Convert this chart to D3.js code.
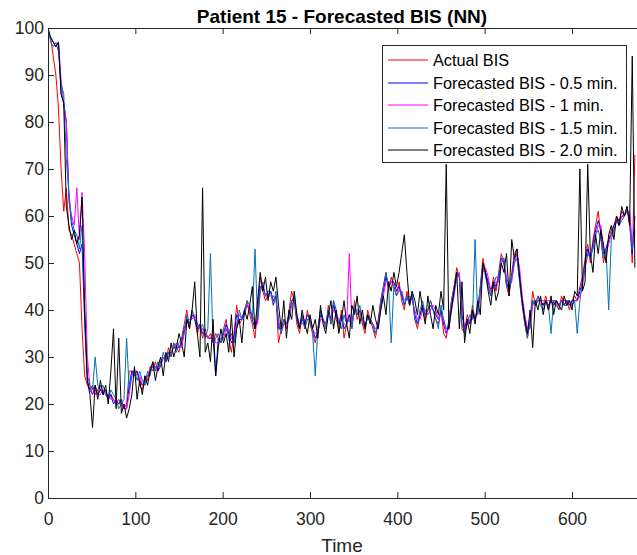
<!DOCTYPE html>
<html>
<head>
<meta charset="utf-8">
<script src="https://cdn.jsdelivr.net/npm/d3@7"></script>
<style>
  body { margin: 0; background: #fff; }
  svg { display: block; font-family: "Liberation Sans", Arial, Helvetica, sans-serif; }
</style>
</head>
<body>
<script>
// Chart data, one sample every 3 time units (t = 0, 3, 6, ... 672)
const STEP = 3;

const actualBIS = [
  99, 98, 94, 90, 83, 70, 61, 66, 57, 56,
  54, 52, 50, 36, 26, 24, 23, 24, 22, 23,
  24, 22, 23, 21, 22, 21, 20, 21, 20, 19,
  20, 27, 27, 27, 27, 24, 23, 26, 25, 28,
  27, 29, 27, 28, 30, 29, 32, 30, 33, 32,
  31, 34, 37, 40, 36, 40, 38, 35, 37, 34,
  36, 34, 35, 33, 35, 34, 33, 36, 38, 34,
  31, 35, 41, 37, 38, 40, 42, 39, 37, 34,
  40, 47, 44, 42, 43, 44, 41, 43, 33, 36,
  38, 36, 40, 44, 42, 37, 35, 39, 36, 40,
  37, 35, 33, 36, 40, 38, 36, 41, 37, 42,
  38, 36, 40, 34, 37, 39, 36, 42, 38, 40,
  37, 35, 40, 38, 36, 34, 38, 42, 45, 48,
  44, 47, 45, 43, 46, 42, 40, 44, 41, 43,
  38, 36, 39, 41, 38, 40, 42, 40, 38, 37,
  40, 35, 34, 38, 42, 45, 49, 47, 36, 35,
  39, 37, 41, 38, 40, 45, 51, 48, 45, 43,
  47, 44, 48, 52, 50, 45, 43, 48, 52, 53,
  46, 41, 37, 34, 38, 44, 41, 43, 42, 41,
  43, 40, 42, 41, 42, 40, 43, 41, 42, 40,
  42, 43, 42, 45, 47, 51, 54, 50, 55, 58,
  61, 56, 50, 53, 55, 57, 58, 60, 59, 61,
  60, 62, 59, 50, 73
];

const forecast05 = [
  99, 98, 97, 96, 97, 86, 84, 80, 64, 58,
  56, 54, 52, 54, 37, 25, 23, 22, 24, 22,
  23, 22, 23, 21, 22, 20, 21, 20, 21, 19,
  19, 24, 27, 26, 27, 25, 24, 25, 26, 27,
  28, 28, 27, 29, 30, 29, 31, 31, 32, 32,
  32, 33, 36, 38, 37, 39, 38, 36, 37, 35,
  35, 34, 34, 34, 26, 34, 33, 35, 37, 35,
  33, 34, 39, 38, 38, 40, 41, 40, 38, 36,
  38, 45, 45, 43, 43, 44, 42, 43, 36, 36,
  37, 37, 39, 42, 42, 38, 36, 38, 37, 39,
  38, 36, 34, 35, 39, 38, 37, 40, 38, 41,
  39, 37, 39, 36, 37, 39, 37, 41, 39, 40,
  38, 36, 39, 38, 37, 35, 37, 41, 44, 47,
  45, 46, 46, 44, 45, 43, 41, 43, 42, 43,
  39, 37, 39, 41, 39, 40, 41, 40, 39, 38,
  40, 37, 35, 37, 41, 44, 48, 47, 39, 36,
  38, 37, 40, 38, 40, 44, 49, 48, 46, 44,
  46, 45, 47, 51, 50, 46, 44, 47, 51, 52,
  47, 42, 38, 35, 37, 42, 41, 42, 42, 41,
  42, 41, 42, 41, 42, 41, 42, 41, 42, 41,
  42, 42, 42, 44, 46, 50, 53, 51, 54, 57,
  59, 57, 52, 53, 55, 56, 58, 59, 59, 60,
  60, 61, 60, 52, 60
];

const forecast1 = [
  99, 98, 97, 96, 97, 89, 84, 80, 63, 60,
  58, 66, 55, 65, 52, 30, 24, 22, 23, 22,
  22, 23, 22, 22, 21, 21, 20, 20, 20, 19,
  19, 22, 26, 27, 26, 26, 24, 24, 26, 27,
  28, 27, 28, 28, 30, 29, 30, 31, 32, 33,
  32, 32, 35, 38, 38, 38, 39, 37, 36, 36,
  35, 34, 34, 35, 33, 33, 34, 34, 36, 36,
  34, 33, 37, 39, 38, 39, 41, 40, 39, 37,
  37, 44, 45, 43, 43, 43, 43, 42, 38, 35,
  37, 37, 38, 41, 42, 39, 37, 37, 38, 38,
  38, 36, 35, 35, 38, 38, 37, 39, 38, 40,
  39, 38, 38, 37, 37, 52, 37, 40, 40, 40,
  38, 37, 38, 38, 37, 36, 36, 40, 43, 46,
  46, 46, 46, 45, 44, 44, 42, 42, 43, 42,
  40, 38, 38, 40, 40, 39, 40, 41, 40, 38,
  39, 38, 35, 36, 40, 43, 47, 48, 41, 36,
  37, 38, 39, 39, 39, 43, 48, 49, 47, 44,
  45, 46, 46, 50, 51, 47, 45, 46, 50, 52,
  49, 43, 39, 36, 36, 41, 42, 42, 42, 42,
  42, 42, 42, 42, 42, 41, 42, 42, 42, 42,
  41, 42, 42, 43, 45, 49, 52, 52, 53, 56,
  58, 58, 53, 52, 54, 56, 57, 59, 58, 60,
  60, 61, 61, 54, 56
];

const forecast15 = [
  100, 97, 96, 97, 95, 88, 86, 72, 65, 59,
  57, 56, 53, 58, 40, 26, 24, 23, 30, 24,
  23, 24, 22, 21, 23, 22, 21, 19, 20, 21,
  34, 23, 26, 27, 25, 27, 25, 24, 27, 26,
  29, 27, 29, 28, 31, 29, 31, 30, 33, 31,
  33, 34, 35, 39, 37, 40, 38, 37, 36, 37,
  34, 36, 52, 33, 34, 35, 33, 36, 36, 34,
  35, 33, 36, 40, 38, 39, 42, 41, 38, 53,
  38, 44, 46, 43, 44, 44, 41, 44, 37, 35,
  38, 37, 38, 42, 43, 38, 36, 39, 36, 38,
  38, 35, 26, 36, 40, 38, 36, 40, 37, 42,
  40, 37, 36, 39, 37, 38, 36, 41, 39, 41,
  38, 36, 39, 38, 37, 35, 37, 42, 45, 48,
  45, 33, 45, 43, 44, 44, 41, 43, 41, 44,
  38, 37, 40, 42, 39, 40, 42, 40, 38, 36,
  41, 38, 36, 37, 42, 45, 48, 47, 37, 35,
  37, 39, 38, 55, 39, 45, 50, 47, 45, 43,
  45, 47, 47, 51, 51, 45, 44, 47, 50, 51,
  46, 41, 37, 34, 38, 42, 41, 43, 41, 40,
  42, 41, 35, 42, 41, 40, 42, 41, 41, 42,
  41, 42, 35, 42, 46, 49, 52, 51, 53, 56,
  57, 55, 51, 53, 40, 55, 57, 59, 58, 59,
  60, 62, 58, 53, 57
];

const forecast20 = [
  100, 98, 97, 96, 97, 86, 84, 62, 58, 55,
  57, 54, 56, 64, 40, 25, 22, 15, 24, 21,
  25, 22, 24, 20, 27, 36, 19, 34, 18, 20,
  17, 19, 22, 28, 21, 25, 22, 26, 24, 27,
  29, 25, 28, 30, 26, 31, 29, 33, 30, 32,
  35, 33, 30, 38, 36, 40, 46, 35, 30, 66,
  31, 33, 29, 38, 26, 32, 36, 33, 35, 31,
  39, 30, 36, 38, 33, 40, 38, 41, 45, 36,
  42, 48, 44, 47, 42, 46, 44, 47, 41, 36,
  42, 34, 40, 38, 44, 39, 36, 40, 37, 35,
  39, 36, 38, 34, 41, 37, 35, 39, 42, 36,
  40, 35, 38, 42, 37, 34, 41, 39, 43, 37,
  40, 36, 39, 37, 41, 38, 36, 40, 43, 39,
  46, 44, 48, 45, 48, 52, 56, 48, 41, 44,
  42, 39, 44, 40, 37, 43, 39, 36, 41, 39,
  44, 40, 71, 36, 40, 44, 48, 36, 46, 33,
  38, 35, 40, 37, 42, 39, 50, 48, 44, 41,
  46, 42, 44, 50, 48, 52, 43, 55, 51, 53,
  47, 42, 38, 35, 40, 32, 42, 40, 43, 39,
  42, 40, 43, 39, 42, 41, 40, 43, 41, 42,
  40, 44, 43, 70, 44, 46, 71, 52, 48, 56,
  52, 57, 54, 50, 56, 58, 55, 60, 58, 62,
  60, 62, 58, 94, 49
];

const seriesNames = [
  "Actual BIS",
  "Forecasted BIS - 0.5 min.",
  "Forecasted BIS - 1 min.",
  "Forecasted BIS - 1.5 min.",
  "Forecasted BIS - 2.0 min."
];
const seriesColors = ["#ff0000", "#0000ff", "#ff00ff", "#0072bd", "#000000"];
const seriesValues = [actualBIS, forecast05, forecast1, forecast15, forecast20];

const xTicks = [0, 100, 200, 300, 400, 500, 600];
const yTicks = [0, 10, 20, 30, 40, 50, 60, 70, 80, 90, 100];

// Canvas and plot box
const WIDTH = 637;
const HEIGHT = 555;
const plot = { left: 48, right: 637.5, top: 28, bottom: 498 };
const axisColor = "#262626";

const svg = d3.select("body")
  .append("svg")
  .attr("width", WIDTH)
  .attr("height", HEIGHT);

const x = d3.scaleLinear().domain([0, 675]).range([plot.left, plot.right]);
const y = d3.scaleLinear().domain([0, 100]).range([plot.bottom, plot.top]);

// Lines
const line = d3.line()
  .x((d, i) => x(i * STEP))
  .y(d => y(d));

svg.append("clipPath").attr("id", "clip")
  .append("rect")
  .attr("x", plot.left).attr("y", plot.top)
  .attr("width", plot.right - plot.left).attr("height", plot.bottom - plot.top);

const lines = svg.append("g").attr("clip-path", "url(#clip)");
seriesValues.forEach((vals, k) => {
  lines.append("path")
    .datum(vals)
    .attr("fill", "none")
    .attr("stroke", seriesColors[k])
    .attr("stroke-width", 1)
    .attr("stroke-linejoin", "round")
    .attr("d", line);
});

// Axes (MATLAB style: ticks pointing inwards, box on)
const tickLen = 6;

const xAxis = svg.append("g")
  .attr("transform", `translate(0,${plot.bottom})`)
  .call(d3.axisBottom(x).tickValues(xTicks).tickSizeInner(-tickLen).tickSizeOuter(0).tickPadding(14.5));

const xTop = svg.append("g")
  .attr("transform", `translate(0,${plot.top})`)
  .call(d3.axisTop(x).tickValues(xTicks).tickSizeInner(-tickLen).tickSizeOuter(0).tickFormat(""));

const yAxis = svg.append("g")
  .attr("transform", `translate(${plot.left},0)`)
  .call(d3.axisLeft(y).tickValues(yTicks).tickSizeInner(-tickLen).tickSizeOuter(0).tickPadding(4));

[xAxis, xTop, yAxis].forEach(g => {
  g.selectAll("path, line").attr("stroke", axisColor).attr("stroke-width", 1);
  g.selectAll("text")
    .attr("fill", axisColor)
    .style("font-size", "17.5px")
    .style("font-family", "'Liberation Sans', Arial, sans-serif");
});

// Title and axis label
svg.append("text")
  .attr("x", 342)
  .attr("y", 22.5)
  .attr("text-anchor", "middle")
  .style("font-size", "19px")
  .style("font-weight", "bold")
  .attr("fill", "#000")
  .text("Patient 15 - Forecasted BIS (NN)");

svg.append("text")
  .attr("x", 342)
  .attr("y", 552)
  .attr("text-anchor", "middle")
  .style("font-size", "19px")
  .attr("fill", axisColor)
  .text("Time");

// Legend
const legend = svg.append("g");
legend.append("rect")
  .attr("x", 382.5).attr("y", 45.5)
  .attr("width", 244).attr("height", 117)
  .attr("fill", "#fff")
  .attr("stroke", axisColor)
  .attr("stroke-width", 1);

const rowY = [60, 83, 105, 128, 150];
seriesNames.forEach((name, k) => {
  legend.append("line")
    .attr("x1", 388).attr("x2", 428)
    .attr("y1", rowY[k]).attr("y2", rowY[k])
    .attr("stroke", seriesColors[k])
    .attr("stroke-width", 1);
  legend.append("text")
    .attr("x", 433)
    .attr("y", rowY[k] + 5.7)
    .style("font-size", "16.3px")
    .attr("fill", "#000")
    .text(name);
});
</script>
</body>
</html>
